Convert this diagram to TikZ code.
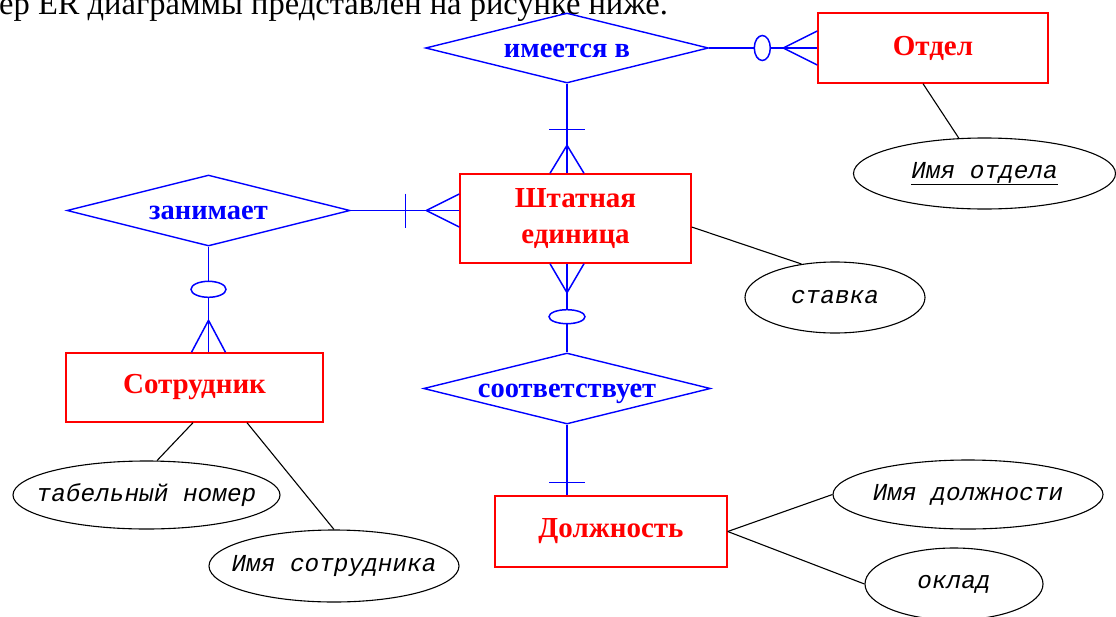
\documentclass[tikz,border=0pt]{standalone}
\usepackage{fontspec}
\setmainfont{Liberation Serif}
\newfontfamily\attrfont{Liberation Mono}
\usetikzlibrary{shapes.geometric,calc}
\begin{document}
\begin{tikzpicture}[x=1pt,y=-1pt,
  entity/.style={draw=red, line width=1.4pt, text=red, font=\fontsize{29}{36}\selectfont\bfseries, inner sep=0pt, align=center},
  relship/.style={diamond, draw=blue, line width=1.4pt, text=blue, font=\fontsize{28.5}{34}\selectfont\bfseries, inner sep=0pt, aspect=4, text height=18pt, text depth=0pt},
  attrib/.style={ellipse, draw=black, line width=1.1pt, font=\fontsize{24.4}{29}\selectfont\attrfont\itshape, inner sep=0pt},
  rel/.style={draw=blue, line width=1.5pt},
  attr/.style={draw=black, line width=1.1pt},
]
\fill[white] (0,0) rectangle (1116,616);
\useasboundingbox (0,0) rectangle (1116,616);

% cut-off caption line at the top
\node[anchor=base west, inner sep=0pt, font=\fontsize{32.5}{38}\selectfont] (caption) at (-1,14.5) {ер ER диаграммы представлен на рисунке ниже.};

% entities
\node[entity, minimum width=230pt, minimum height=70pt] (otdel) at (933,48) {Отдел};
\node[entity, minimum width=231pt, minimum height=89pt] (shtat) at (575.5,218.5) {Штатная\\единица};
\node[entity, minimum width=257pt, minimum height=69pt] (sotr) at (194.5,387.5) {Сотрудник};
\node[entity, minimum width=232pt, minimum height=71pt] (dolzh) at (611,531.5) {Должность};

% relationships
\node[relship, minimum width=283pt, minimum height=70pt] (imeet) at (567,48) {\makebox[0pt]{имеется в}};
\node[relship, minimum width=283pt, minimum height=71pt] (zanim) at (208.5,210.5) {\makebox[0pt]{занимает}};
\node[relship, minimum width=287pt, minimum height=71pt] (sootv) at (567,388.5) {\makebox[0pt]{соответствует}};

% attributes
\node[attrib, minimum width=262pt, minimum height=71pt] (onm) at (984.5,173.5) {\makebox[0pt]{\underline{Имя отдела}}};
\node[attrib, minimum width=180pt, minimum height=71pt] (stavka) at (835,297.5) {\makebox[0pt]{ставка}};
\node[attrib, minimum width=267pt, minimum height=68pt] (tabel) at (146.5,495) {\makebox[0pt]{табельный номер}};
\node[attrib, minimum width=250pt, minimum height=72pt] (sotrname) at (334,566) {\makebox[0pt]{Имя сотрудника}};
\node[attrib, minimum width=270pt, minimum height=69pt] (dolzhname) at (968,494.5) {\makebox[0pt]{Имя должности}};
\node[attrib, minimum width=178pt, minimum height=72pt] (oklad) at (954,584) {\makebox[0pt]{оклад}};

% имеется в -- Отдел
\draw[rel] (imeet.east) -- (otdel.west);
\coordinate (c1) at ([xshift=-34pt]otdel.west);
\draw[rel] (c1) -- ([yshift=17pt]otdel.west) (c1) -- ([yshift=-17pt]otdel.west);
\draw[rel, fill=white] ([xshift=-55pt]otdel.west) ellipse [x radius=8pt, y radius=12.5pt];

% имеется в -- Штатная единица
\coordinate (s1) at (imeet.south |- shtat.north);
\draw[rel] (imeet.south) -- (s1);
\draw[rel] ([xshift=-18pt,yshift=-46pt]imeet.south) -- ([xshift=18pt,yshift=-46pt]imeet.south);
\coordinate (c2) at ([yshift=28pt]s1);
\draw[rel] (c2) -- ([xshift=-17pt]s1) (c2) -- ([xshift=17pt]s1);

% занимает -- Штатная единица
\coordinate (s2) at (zanim.east -| shtat.west);
\draw[rel] (zanim.east) -- (s2);
\draw[rel] ([xshift=-54pt,yshift=17pt]s2) -- ([xshift=-54pt,yshift=-17pt]s2);
\coordinate (c3) at ([xshift=-33pt]s2);
\draw[rel] (c3) -- ([yshift=16.5pt]s2) (c3) -- ([yshift=-16.5pt]s2);

% Штатная единица -- соответствует
\coordinate (s3) at (sootv.north |- shtat.south);
\draw[rel] (s3) -- (sootv.north);
\coordinate (c4) at ([yshift=-29pt]s3);
\draw[rel] (c4) -- ([xshift=-17pt]s3) (c4) -- ([xshift=17pt]s3);
\draw[rel, fill=white] ([yshift=-53pt]s3) ellipse [x radius=18pt, y radius=7pt];

% занимает -- Сотрудник
\coordinate (s4) at (zanim.south |- sotr.north);
\draw[rel] (zanim.south) -- (s4);
\coordinate (c5) at ([yshift=32pt]s4);
\draw[rel] (c5) -- ([xshift=-17pt]s4) (c5) -- ([xshift=17pt]s4);
\draw[rel, fill=white] ([yshift=63pt]s4) ellipse [x radius=17.5pt, y radius=8pt];

% соответствует -- Должность
\coordinate (s5) at (sootv.south |- dolzh.north);
\draw[rel] (sootv.south) -- (s5);
\draw[rel] ([xshift=-18pt,yshift=13pt]s5) -- ([xshift=18pt,yshift=13pt]s5);

% attribute links
\draw[attr] ([xshift=-10pt]otdel.south) -- (onm.126);
\draw[attr] ([yshift=-8.5pt]shtat.east) -- (stavka.135);
\draw[attr] ([xshift=-1.5pt]sotr.south) -- (tabel.73);
\draw[attr] ([xshift=52.5pt]sotr.south) -- (sotrname.north);
\draw[attr] (dolzh.east) -- (dolzhname.west);
\draw[attr] (dolzh.east) -- (oklad.west);
\end{tikzpicture}
\end{document}
